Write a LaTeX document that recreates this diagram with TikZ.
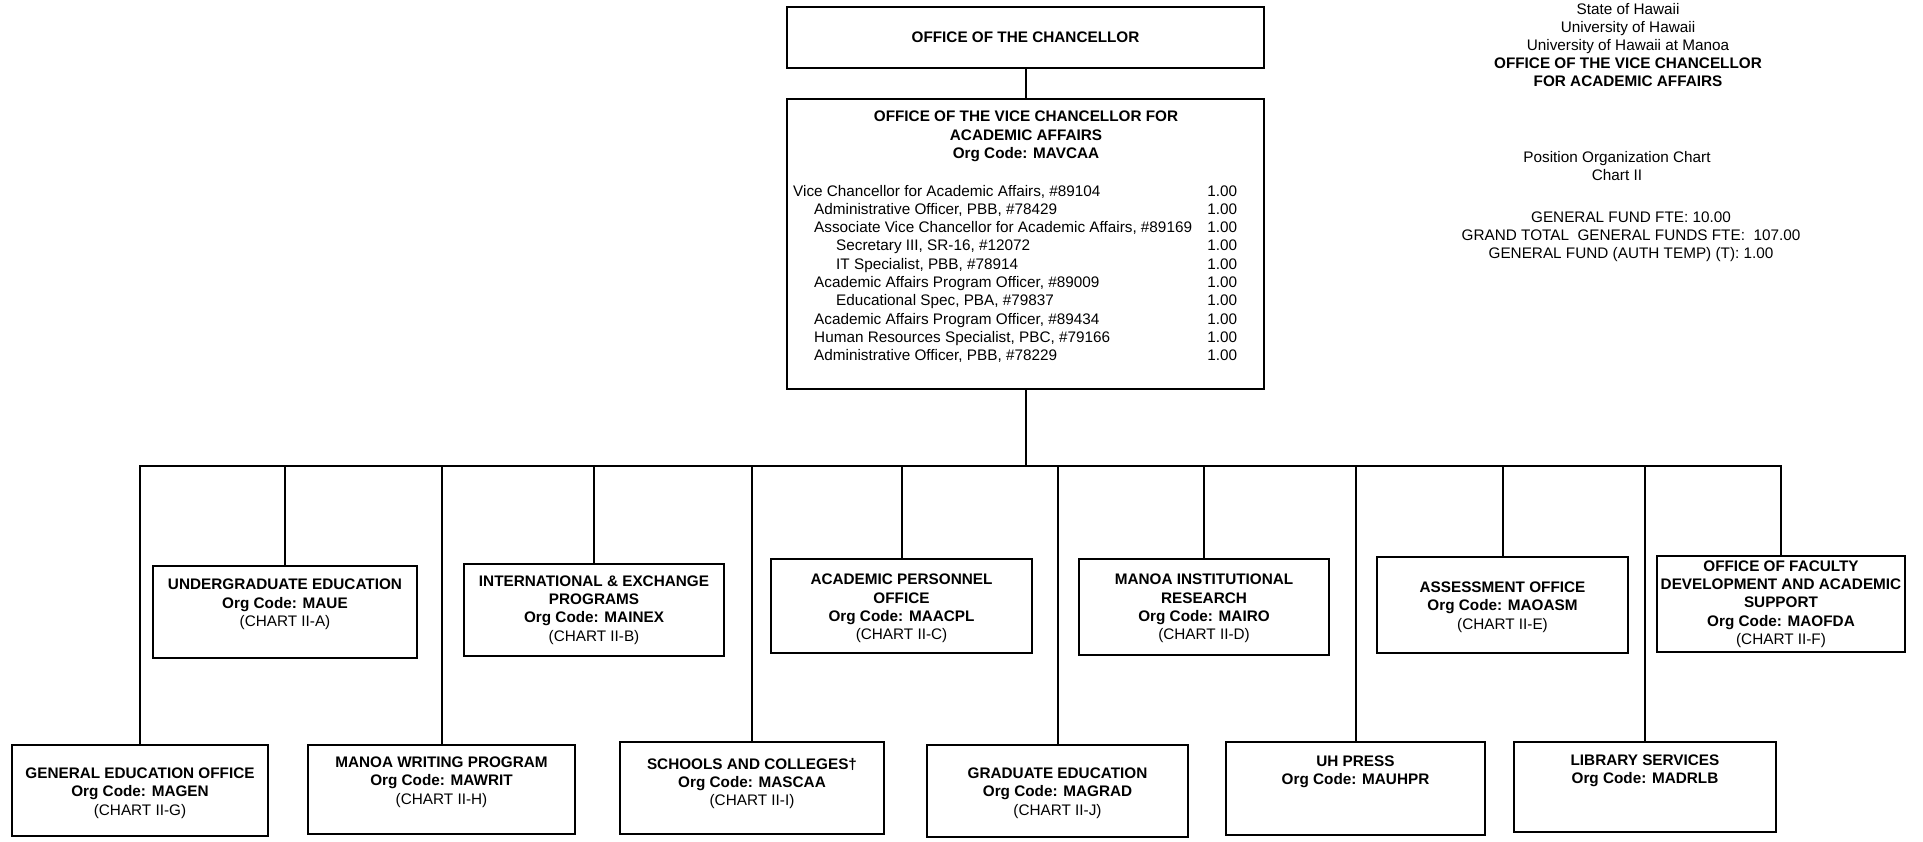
\documentclass[tikz,border=0pt]{standalone}
\usepackage{fontspec}
\setmainfont{Liberation Sans}
\usetikzlibrary{positioning,calc}

\begin{document}
\begin{tikzpicture}[
  x=1pt, y=-1pt,
  unit/.style={draw, line width=2pt, inner sep=0pt},
  unittext/.style={align=center, inner sep=0pt, font=\fontsize{15.3}{18.3}\selectfont\bfseries},
  hdr/.style={align=center, inner sep=0pt, anchor=north, font=\fontsize{15.3}{18}\selectfont},
  conn/.style={line width=2pt}
]
  \useasboundingbox (0,0) rectangle (1923,841);

  % chancellor and vice chancellor
  \node[unit, minimum width=477, minimum height=61, font=\fontsize{15.3}{18}\selectfont\bfseries] (chan) at (1025.5,37.5) {OFFICE OF THE CHANCELLOR};
  \node[unit, minimum width=477, minimum height=290] (vc) at (1025.5,244) {};
  \node[unittext, anchor=north, font=\fontsize{15.3}{18.5}\selectfont\bfseries] (vct) at (1026,111) {OFFICE OF THE VICE CHANCELLOR FOR\\ACADEMIC AFFAIRS\\Org Code: MAVCAA};
  \node[anchor=base west, inner sep=0pt, font=\fontsize{15.3}{18.3}\selectfont] (vcl) at (793,196) {%
    \begin{tabular*}{444pt}[t]{@{}l@{\extracolsep{\fill}}r@{}}
      Vice Chancellor for Academic Affairs, \#89104 & 1.00\\
      \hspace*{21pt}Administrative Officer, PBB, \#78429 & 1.00\\
      \hspace*{21pt}Associate Vice Chancellor for Academic Affairs, \#89169 & 1.00\\
      \hspace*{43pt}Secretary III, SR-16, \#12072 & 1.00\\
      \hspace*{43pt}IT Specialist, PBB, \#78914 & 1.00\\
      \hspace*{21pt}Academic Affairs Program Officer, \#89009 & 1.00\\
      \hspace*{43pt}Educational Spec, PBA, \#79837 & 1.00\\
      \hspace*{21pt}Academic Affairs Program Officer, \#89434 & 1.00\\
      \hspace*{21pt}Human Resources Specialist, PBC, \#79166 & 1.00\\
      \hspace*{21pt}Administrative Officer, PBB, \#78229 & 1.00
    \end{tabular*}};

  % heading on the right
  \node[hdr] (state) at (1628,3) {State of Hawaii\\University of Hawaii\\University of Hawaii at Manoa\\\textbf{OFFICE OF THE VICE CHANCELLOR}\\\textbf{FOR ACADEMIC AFFAIRS}};
  \node[hdr] (chart) at (1617,151) {Position Organization Chart\\Chart II};
  \node[hdr] (fte) at (1631,212) {GENERAL FUND FTE: 10.00\\GRAND TOTAL\ \ GENERAL FUNDS FTE:\ \ 107.00\\GENERAL FUND (AUTH TEMP) (T): 1.00};

  % upper row
  \node[unit, minimum width=264, minimum height=92] (ue) at (285,612) {};
  \node[unittext] (uet) at (285,604.5) {UNDERGRADUATE EDUCATION\\Org Code: MAUE\\\textmd{(CHART II-A)}};
  \node[unit, minimum width=260, minimum height=92] (ie) at (594,610) {};
  \node[unittext] (iet) at (594,610) {INTERNATIONAL \& EXCHANGE\\PROGRAMS\\Org Code: MAINEX\\\textmd{(CHART II-B)}};
  \node[unit, minimum width=261, minimum height=94] (ap) at (901.5,606) {};
  \node[unittext] (apt) at (901.5,608.5) {ACADEMIC PERSONNEL\\OFFICE\\Org Code: MAACPL\\\textmd{(CHART II-C)}};
  \node[unit, minimum width=250, minimum height=96] (mir) at (1204,607) {};
  \node[unittext] (mirt) at (1204,608.5) {MANOA INSTITUTIONAL\\RESEARCH\\Org Code: MAIRO\\\textmd{(CHART II-D)}};
  \node[unit, minimum width=251, minimum height=96] (ao) at (1502.5,605) {};
  \node[unittext] (aot) at (1502.5,607) {ASSESSMENT OFFICE\\Org Code: MAOASM\\\textmd{(CHART II-E)}};
  \node[unit, minimum width=248, minimum height=96] (fd) at (1781,604) {};
  \node[unittext] (fdt) at (1781,604) {OFFICE OF FACULTY\\DEVELOPMENT AND ACADEMIC\\SUPPORT\\Org Code: MAOFDA\\\textmd{(CHART II-F)}};

  % lower row
  \node[unit, minimum width=256, minimum height=91] (ge) at (140,790.5) {};
  \node[unittext] (get) at (140,793) {GENERAL EDUCATION OFFICE\\Org Code: MAGEN\\\textmd{(CHART II-G)}};
  \node[unit, minimum width=267, minimum height=89] (wp) at (441.5,789.5) {};
  \node[unittext] (wpt) at (441.5,782) {MANOA WRITING PROGRAM\\Org Code: MAWRIT\\\textmd{(CHART II-H)}};
  \node[unit, minimum width=264, minimum height=92] (sc) at (752,788) {};
  \node[unittext] (sct) at (752,783.5) {SCHOOLS AND COLLEGES†\\Org Code: MASCAA\\\textmd{(CHART II-I)}};
  \node[unit, minimum width=261, minimum height=92] (gr) at (1057.5,791) {};
  \node[unittext] (grt) at (1057.5,793) {GRADUATE EDUCATION\\Org Code: MAGRAD\\\textmd{(CHART II-J)}};
  \node[unit, minimum width=259, minimum height=93] (uh) at (1355.5,788.5) {};
  \node[unittext] (uht) at (1355.5,771.5) {UH PRESS\\Org Code: MAUHPR};
  \node[unit, minimum width=262, minimum height=90] (lib) at (1645,787) {};
  \node[unittext] (libt) at (1645,770.5) {LIBRARY SERVICES\\Org Code: MADRLB};

  % connectors
  \coordinate (bus) at (0,466);
  \draw[conn] (chan) -- (vc);
  \draw[conn] (vc.south) -- (vc.south |- bus);
  \draw[conn] (ge.north) -- (ge.north |- bus) -- (fd.north |- bus) -- (fd.north);
  \foreach \n in {ue,wp,ie,sc,ap,gr,mir,uh,ao,lib} \draw[conn] (\n.north |- bus) -- (\n.north);
\end{tikzpicture}
\end{document}
